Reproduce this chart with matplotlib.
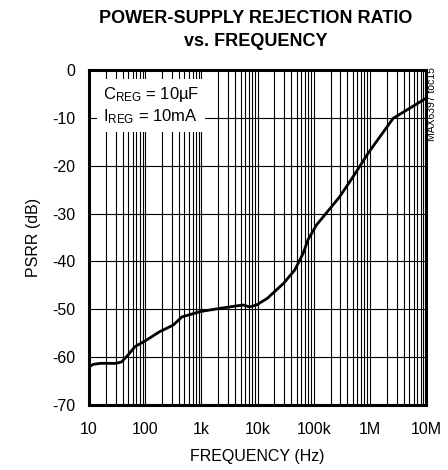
import matplotlib
matplotlib.use("Agg")
import matplotlib.pyplot as plt
from matplotlib.ticker import FixedLocator, NullFormatter

# PSRR vs frequency
freq = [10, 12, 15.7, 20, 30, 38, 50, 66, 100, 180, 316, 450, 940, 2150,
        5500, 7200, 9600, 15000, 29000, 46000, 65000, 79000, 112000,
        290000, 530000, 930000, 2.6e6, 4.5e6, 1e7]
psrr = [-62.0, -61.5, -61.3, -61.3, -61.3, -61.0, -59.5, -57.8, -56.6, -54.7,
        -53.3, -51.6, -50.5, -49.8, -49.1, -49.5, -49.1, -47.7, -44.6, -41.8,
        -38.3, -35.5, -32.4, -26.5, -21.9, -17.4, -10.1, -8.4, -5.9]

xticks = [10, 100, 1e3, 1e4, 1e5, 1e6, 1e7]
xticklabels = ["10", "100", "1k", "10k", "100k", "1M", "10M"]
yticks = [0, -10, -20, -30, -40, -50, -60, -70]

plt.rcParams["font.family"] = ["Liberation Sans", "DejaVu Sans"]
plt.rcParams["mathtext.fontset"] = "custom"
plt.rcParams["mathtext.rm"] = "Liberation Sans"
plt.rcParams["mathtext.it"] = "Liberation Sans"

fig = plt.figure(figsize=(4.48, 4.70), dpi=100)
ax = fig.add_axes([89 / 448, 1 - 405 / 470, 337 / 448, 335 / 470])

ax.set_xscale("log")
ax.set_xlim(10, 1e7)
ax.set_ylim(-70, 0)

ax.plot(freq, psrr, color="black", lw=2.0, zorder=4)

ax.xaxis.set_major_locator(FixedLocator(xticks))
ax.xaxis.set_minor_locator(FixedLocator(
    [m * 10 ** e for e in range(1, 7) for m in range(2, 10)]))
ax.xaxis.set_minor_formatter(NullFormatter())
ax.set_xticklabels(xticklabels)
ax.set_yticks(yticks)
ax.set_yticklabels([str(v) for v in yticks])

ax.grid(True, which="both", axis="x", color="black", lw=0.8)
ax.grid(True, which="major", axis="y", color="black", lw=0.8)
ax.tick_params(which="both", length=0, labelsize=11.5)
ax.tick_params(axis="x", pad=12)
ax.tick_params(axis="y", pad=10)

for s in ax.spines.values():
    s.set_linewidth(2.2)

ax.text(0.042, 0.955, "$\\mathrm{C_{REG}}$ = 10µF\n$\\mathrm{I_{REG}}$ = 10mA",
        transform=ax.transAxes, fontsize=12, va="top", ha="left",
        linespacing=1.25, zorder=5,
        bbox=dict(boxstyle="square,pad=0.35", fc="white", ec="none"))

ax.set_xlabel("FREQUENCY (Hz)", fontsize=11.5, labelpad=9)
ax.set_ylabel("PSRR (dB)", fontsize=11.5, labelpad=8)

fig.text(0.571, 0.978, "POWER-SUPPLY REJECTION RATIO\nvs. FREQUENCY",
         ha="center", va="top", fontsize=13, fontweight="bold",
         linespacing=1.45)
fig.text(0.965, 0.858, "MAX6397 toc15", rotation=90, ha="center", va="top",
         fontsize=7.5)

fig.savefig("out.png", dpi=100)
